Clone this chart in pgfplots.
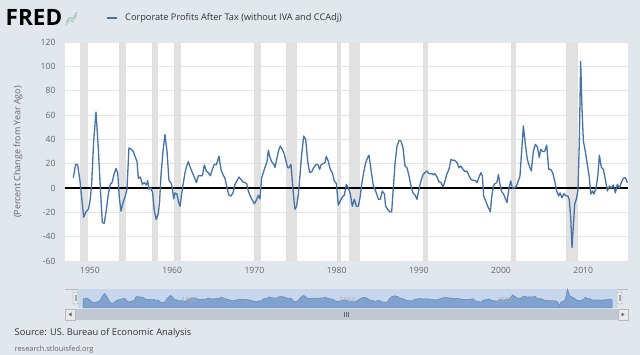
\documentclass[border=0pt]{standalone}
\usepackage{fontspec}
\setmainfont{Open Sans}
\usepackage{pgfplots}
\pgfplotsset{compat=1.18}
\usepackage{pgfplotstable}

\definecolor{bgc}{RGB}{226,231,237}
\definecolor{fredline}{RGB}{69,114,167}
\definecolor{recc}{RGB}{225,225,225}
\definecolor{gridc}{RGB}{228,228,228}
\definecolor{tickc}{RGB}{102,102,102}
\definecolor{legc}{RGB}{51,51,51}
\definecolor{navmask}{RGB}{200,215,236}
\definecolor{navfill}{RGB}{128,162,206}
\definecolor{navline}{RGB}{95,135,190}
\definecolor{scrollc}{RGB}{192,200,210}
\definecolor{btnc}{RGB}{232,234,238}

\pgfplotstableread{
year value
1947.97 8.5
1948.26 19.5
1948.50 19
1948.78 6
1948.99 -8
1949.23 -24
1949.47 -20
1949.80 -17.5
1950.00 -11
1950.20 3
1950.45 38.6
1950.73 62.5
1951.01 33
1951.26 0
1951.50 -28.5
1951.74 -29
1952.03 -16
1952.23 -5
1952.47 3
1952.68 4.4
1952.92 11
1953.16 16
1953.37 12.6
1953.57 -8
1953.77 -19
1954.06 -11
1954.26 -7.4
1954.50 -1
1954.74 33
1954.99 32
1955.27 30
1955.47 26
1955.72 22
1955.88 8
1956.12 9
1956.37 3
1956.61 4.4
1956.85 2.5
1957.02 6
1957.18 -1
1957.42 0
1957.62 -4
1957.83 -19
1958.07 -26
1958.31 -21
1958.46 -12
1958.64 11
1958.88 30
1959.12 44
1959.37 30
1959.61 6
1959.85 4.4
1960.02 0
1960.18 -9
1960.34 -4
1960.58 -5
1960.75 -11
1960.95 -15
1961.15 -5
1961.36 4.4
1961.56 12.6
1961.76 18
1961.96 21.6
1962.21 16.7
1962.45 12.6
1962.69 9
1962.94 4.4
1963.18 10
1963.42 10
1963.67 10
1963.91 19
1964.15 14
1964.40 12.6
1964.64 10
1964.88 15.3
1965.13 19.5
1965.37 19
1965.69 26
1965.94 15
1966.18 11
1966.42 8
1966.67 0
1966.91 -6
1967.15 -6.6
1967.40 -4
1967.64 3
1967.88 6
1968.13 9
1968.37 7
1968.61 5
1968.86 4.4
1969.06 3.6
1969.26 -2.5
1969.46 -6
1969.67 -9
1969.99 -13
1970.24 -10
1970.48 -6
1970.68 -9
1970.88 8.5
1971.09 12.6
1971.29 17
1971.53 21.6
1971.70 31
1971.90 25
1972.10 21.6
1972.35 19.5
1972.51 17
1972.71 23.5
1972.91 30
1973.15 34.5
1973.40 31.8
1973.64 27.7
1973.89 20.8
1974.05 16.7
1974.21 16.7
1974.45 19.5
1974.61 5.8
1974.78 -8
1974.94 -17.5
1975.14 -15
1975.35 -5
1975.55 11
1975.75 27.7
1976.00 42.7
1976.24 40
1976.48 22
1976.72 12.6
1976.97 13.4
1977.21 16.7
1977.45 19
1977.70 19.5
1977.94 15.3
1978.10 19
1978.35 20
1978.59 20.8
1978.75 26
1978.99 22
1979.24 15
1979.48 12.6
1979.72 5.8
1979.97 3.6
1980.21 -14
1980.45 -10.7
1980.70 -7.4
1980.94 -5.8
1981.18 3
1981.43 0
1981.67 -5
1981.91 -15
1982.16 -9.3
1982.40 -15
1982.64 -15
1982.85 -8
1983.05 3
1983.29 12.6
1983.54 20.8
1983.78 25
1983.94 27
1984.18 15.3
1984.47 1.6
1984.67 -1
1984.87 -4.7
1985.08 -9.3
1985.32 -9.3
1985.56 -2.5
1985.81 -5
1985.97 -15
1986.21 -17.5
1986.46 -19.5
1986.70 -19.5
1986.90 0
1987.10 19.5
1987.35 34.5
1987.59 39
1987.83 38.6
1988.08 33
1988.32 18
1988.56 16.7
1988.81 10
1989.05 1.6
1989.29 -4
1989.54 -5.8
1989.78 -9.3
1990.02 -1
1990.27 5.8
1990.51 11
1990.75 12.6
1991.00 14
1991.24 11.8
1991.57 11.8
1991.81 10.7
1991.97 11.8
1992.21 9
1992.46 5.2
1992.70 4.4
1992.94 0.8
1993.19 5.8
1993.39 11
1993.67 15.3
1993.92 23.5
1994.16 22.7
1994.40 22.7
1994.65 20.8
1994.89 16.7
1995.13 18
1995.38 15.3
1995.62 13.4
1995.86 14
1996.11 10
1996.35 7
1996.59 6.3
1996.84 6.3
1997.08 4.4
1997.32 9
1997.57 12.6
1997.73 10
1997.89 -6.6
1998.14 -10.7
1998.38 -15
1998.70 -19.5
1998.86 -8
1999.07 1.6
1999.27 3.6
1999.51 4.4
1999.68 11
1999.88 3
2000.08 -3
2000.32 -5
2000.49 -8
2000.73 -12
2000.97 0
2001.18 5.8
2001.38 0
2001.62 0
2001.87 1.6
2002.11 5.8
2002.31 10
2002.51 30
2002.72 51
2002.96 36
2003.20 23.5
2003.45 18
2003.69 14
2003.93 30
2004.18 36
2004.42 33.7
2004.66 25
2004.83 31.8
2005.07 30
2005.31 30
2005.56 35.3
2005.80 15.3
2006.04 15.3
2006.29 12.6
2006.53 5.8
2006.77 -2.5
2007.02 -6.6
2007.18 -4
2007.42 -8
2007.66 -4.7
2007.91 -6.6
2008.15 -6.6
2008.31 -10
2008.48 -24.4
2008.64 -49
2008.80 -31
2008.96 -13.4
2009.21 -8
2009.37 -1
2009.53 38.6
2009.69 104
2009.85 66
2010.02 38.6
2010.26 30
2010.50 19.5
2010.75 8.5
2010.91 -5
2011.15 -2.5
2011.31 -5
2011.56 0
2011.80 11
2011.96 27
2012.21 17
2012.45 15.3
2012.69 7
2012.94 -2.5
2013.18 1.6
2013.42 0
2013.67 2.5
2013.91 -4
2014.15 3
2014.39 0
2014.64 4.4
2014.88 8
2015.13 8.5
2015.37 4.4
}\cpdata

\pgfplotstableread{
x0 x1
1948.83 1949.75
1953.50 1954.33
1957.58 1958.25
1960.25 1961.08
1969.92 1970.83
1973.83 1975.17
1980.00 1980.50
1981.50 1982.83
1990.50 1991.17
2001.17 2001.83
2007.92 2009.42
}\recdata

\begin{document}
\begin{tikzpicture}
\begin{scope}[x=1pt,y=1pt]
\useasboundingbox (0,0) rectangle (640,355);
\fill[bgc] (0,0) rectangle (640,355);
% logo
\node[anchor=west, inner sep=0, font=\fontsize{22.5}{22.5}\selectfont\bfseries] at (5.5,338) {FRED};
\draw[green!45!gray!55, line width=0.8pt] (66,330) -- (69.5,335) -- (72.5,333) -- (77,340);
\draw[fredline!55, line width=0.8pt] (66,332.5) -- (69.5,337.5) -- (72.5,336) -- (77,343);
% legend
\draw[fredline, line width=1.2pt] (107,337) -- (117,337);
\node[anchor=west, inner sep=0, font=\fontsize{9.2}{10}\selectfont, text=legc] at (125,337) {Corporate Profits After Tax (without IVA and CCAdj)};
% y label
\node[rotate=90, font=\fontsize{8.9}{10}\selectfont, text=tickc] at (18,203) {(Percent Change from Year Ago)};
% navigator background
\draw[gray!55, line width=0.4pt] (65,66) -- (628,66);
\fill[navmask] (78,47) rectangle (617,65.5);
\end{scope}

\begin{axis}[
  at={(65pt,94pt)}, anchor=south west, scale only axis,
  width=563pt, height=219pt,
  xmin=1946.96, xmax=2015.45, ymin=-60, ymax=120,
  axis background/.style={fill=white},
  axis line style={draw=none},
  ymajorgrids, grid style={gridc, line width=0.8pt},
  ytick={-60,-40,...,120}, xtick={1950,1960,...,2010},
  major tick length=0pt,
  tick label style={font=\fontsize{8.6}{10}\selectfont, text=tickc},
  /pgf/number format/assume math mode=true,
  /pgf/number format/1000 sep={},
  xticklabel style={yshift=-3pt},
  yticklabel style={xshift=-6pt},
]
\pgfplotsinvokeforeach{0,...,10}{
  \pgfplotstablegetelem{#1}{x0}\of\recdata \edef\ra{\pgfplotsretval}
  \pgfplotstablegetelem{#1}{x1}\of\recdata \edef\rb{\pgfplotsretval}
  \edef\temp{\noexpand\addplot[fill=recc, draw=none] coordinates {(\ra,-60) (\ra,120) (\rb,120) (\rb,-60)} -- cycle;}
  \temp
}
\addplot[black, line width=1.4pt] coordinates {(1946.96,0) (2015.45,0)};
\addplot[fredline, line width=1.3pt, line join=round] table[x=year, y=value] {\cpdata};
\end{axis}

\begin{axis}[
  at={(83pt,47pt)}, anchor=south west, scale only axis,
  width=529pt, height=19pt,
  xmin=1947.97, xmax=2015.37, ymin=0, ymax=180,
  hide axis, clip=false,
]
\addplot[fill=navfill, draw=navline, line width=0.5pt] table[x=year, y expr=\thisrow{value}+75] {\cpdata} \closedcycle;
\end{axis}

\begin{scope}[x=1pt,y=1pt]
\node[anchor=west, font=\fontsize{7}{8}\selectfont, text=gray!65] at (178,55) {1960};
\node[anchor=west, font=\fontsize{7}{8}\selectfont, text=gray!65] at (336,55) {1980};
\node[anchor=west, font=\fontsize{7}{8}\selectfont, text=gray!65] at (493,55) {2000};
% handles
\draw[gray!70, fill=btnc, rounded corners=1pt] (73,51) rectangle (78,63);
\draw[gray!70, line width=0.3pt] (75,54) -- (75,60) (76,54) -- (76,60);
\draw[gray!70, fill=btnc, rounded corners=1pt] (617,51) rectangle (622,63);
\draw[gray!70, line width=0.3pt] (619,54) -- (619,60) (620,54) -- (620,60);
% scrollbar
\fill[scrollc] (65,35) rectangle (628,46);
\draw[gray!55, fill=btnc] (65,35) rectangle (75,46);
\draw[gray!55, fill=btnc] (618,35) rectangle (628,46);
\fill[gray!80!black] (68.5,40.5) -- (71.5,38.5) -- (71.5,42.5) -- cycle;
\fill[gray!80!black] (624.5,40.5) -- (621.5,38.5) -- (621.5,42.5) -- cycle;
\draw[gray!80!black, line width=0.4pt] (344,38) -- (344,43) (346,38) -- (346,43) (348,38) -- (348,43);
% source
\node[anchor=west, inner sep=0, font=\fontsize{9.3}{10}\selectfont, text=legc] at (14.5,22) {Source: US. Bureau of Economic Analysis};
\node[anchor=west, inner sep=0, font=\fontsize{7.4}{8}\selectfont, text=tickc] at (14.5,5.5) {research.stlouisfed.org};
\end{scope}
\end{tikzpicture}
\end{document}
